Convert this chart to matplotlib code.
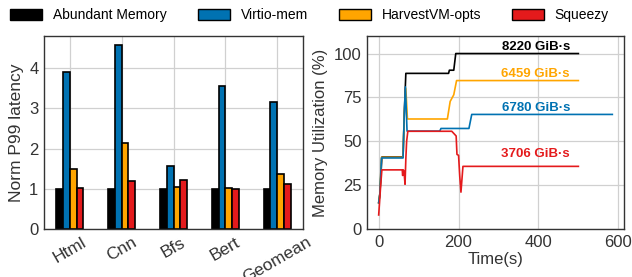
import matplotlib
matplotlib.use("Agg")
import matplotlib.pyplot as plt
import numpy as np
from matplotlib.patches import Patch

plt.rcParams['font.family'] = ['Liberation Sans', 'DejaVu Sans']

# ---- data ----
categories = ["Html", "Cnn", "Bfs", "Bert", "Geomean"]
series_names = ["Abundant Memory", "Virtio-mem", "HarvestVM-opts", "Squeezy"]
abundant = [1.0, 1.0, 1.0, 1.0, 1.0]
virtio = [3.91, 4.57, 1.57, 3.55, 3.16]
harvest = [1.48, 2.15, 1.04, 1.03, 1.37]
squeezy = [1.02, 1.19, 1.21, 1.00, 1.11]
colors = ["#000000", "#0072B2", "#FFA500", "#E41A1C"]

t_abundant = [0, 3, 8, 61, 64, 68, 175, 177, 188, 193, 500]
u_abundant = [15, 20, 41, 41, 65, 88.7, 88.7, 90.5, 90.5, 100, 100]
t_virtio = [0, 3, 7, 61, 64, 67, 71, 153, 156, 226, 233, 585]
u_virtio = [15, 20, 40.5, 40.5, 65, 81, 55.8, 55.8, 57.3, 57.3, 65.3, 65.3]
t_harvest = [0, 3, 7, 61, 64, 68, 72, 172, 179, 188, 195, 500]
u_harvest = [15, 20, 40.8, 40.8, 65, 80, 62.7, 62.7, 72.7, 76.5, 84.6, 84.6]
t_squeezy = [0, 3, 5, 8, 59, 60, 62, 64, 66, 68, 70, 73, 183, 190, 194, 196, 200, 203, 206, 211, 500]
u_squeezy = [8, 18, 25, 33.7, 33.7, 30.5, 33.7, 31, 25.5, 40, 50, 55.7, 55.7, 54, 53, 42.5, 42, 30, 21, 35.7, 35.7]
gib_labels = ["8220 GiB·s", "6459 GiB·s", "6780 GiB·s", "3706 GiB·s"]
label_y = [103.8, 88.5, 68.7, 43.0]

# ---- figure ----
fig = plt.figure(figsize=(6.32, 2.77), dpi=100)
ax1 = fig.add_axes([44/632, 48/277, 259/632, 193/277])
ax2 = fig.add_axes([367/632, 48/277, 257/632, 193/277])

spine_c = "#333333"
grid_c = "#d0d0d0"
tick_c = "#333333"

for ax in (ax1, ax2):
    ax.set_axisbelow(True)
    ax.grid(True, color=grid_c, linewidth=0.9)
    for s in ax.spines.values():
        s.set_color(spine_c)
        s.set_linewidth(1.0)
    ax.tick_params(length=0, labelsize=12, colors=tick_c, pad=4)

# bars
x = np.arange(len(categories))
w = 0.13
allvals = [abundant, virtio, harvest, squeezy]
for i, (vals, c) in enumerate(zip(allvals, colors)):
    ax1.bar(x + (i - 1.5) * w, vals, width=w, color=c, edgecolor="black", linewidth=1.2)
ax1.set_xticks(x)
ax1.set_xticklabels(categories, rotation=30, fontsize=12.5)
ax1.set_xlim(-0.5, 4.5)
ax1.set_ylim(0, 4.8)
ax1.set_yticks([0, 1, 2, 3, 4])
ax1.set_ylabel("Norm P99 latency", fontsize=12.5, color=tick_c)

# lines
for t, u, c in zip([t_abundant, t_harvest, t_virtio, t_squeezy],
                   [u_abundant, u_harvest, u_virtio, u_squeezy],
                   [colors[0], colors[2], colors[1], colors[3]]):
    ax2.plot(t, u, color=c, linewidth=1.2)
for txt, yy, c in zip(gib_labels, label_y, [colors[0], colors[2], colors[1], colors[3]]):
    ax2.text(479, yy, txt, color=c, fontsize=9.5, fontweight="bold", ha="right", va="center")
ax2.set_xlim(-29.25, 614.25)
ax2.set_ylim(0, 110)
ax2.set_yticks([0, 25, 50, 75, 100])
ax2.set_xticks([0, 200, 400, 600])
ax2.set_xlabel("Time(s)", fontsize=12, color=tick_c, labelpad=2)
ax2.set_ylabel("Memory Utilization (%)", fontsize=12, color=tick_c)

handles = [Patch(facecolor=c, edgecolor="black", linewidth=1.0) for c in colors]
fig.legend(handles, series_names, loc="center", bbox_to_anchor=(0.49, 0.945), ncol=4,
           frameon=False, fontsize=10, handlelength=2.3, handleheight=0.9,
           columnspacing=2.2, handletextpad=0.8)

fig.savefig("out.png", dpi=100)
